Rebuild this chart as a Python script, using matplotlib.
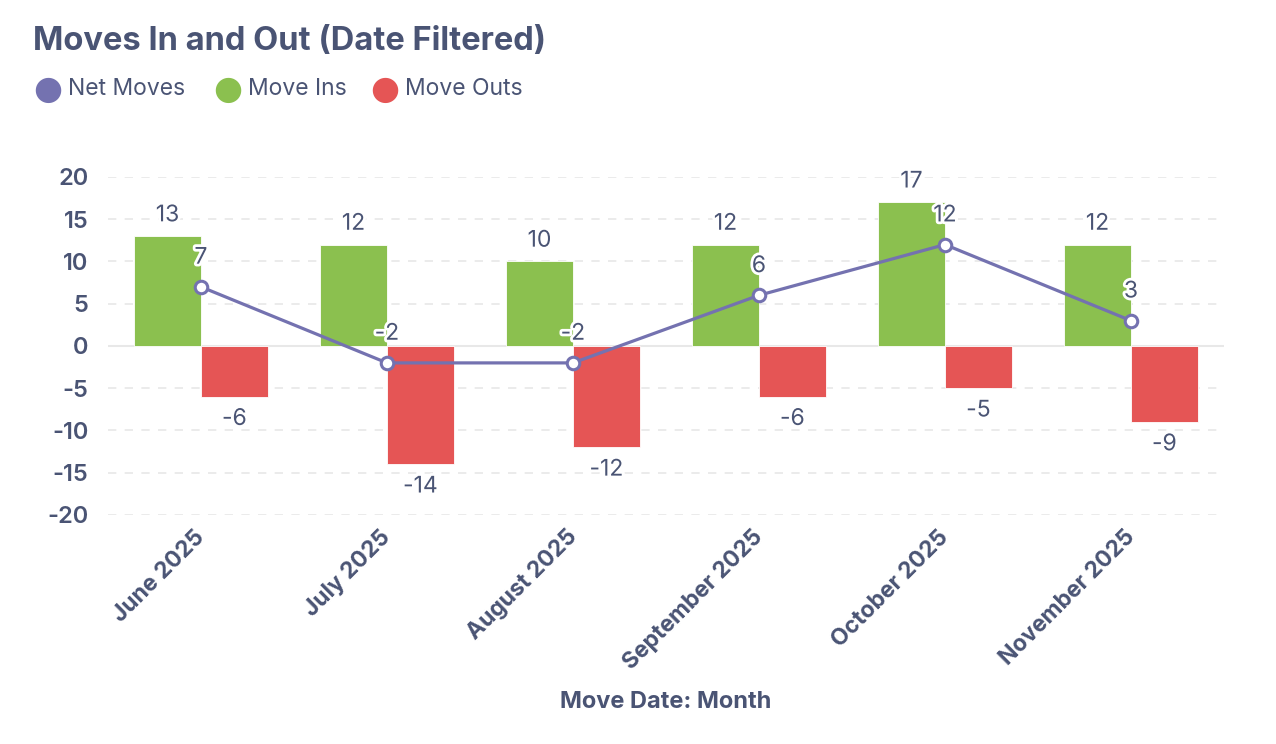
import matplotlib.pyplot as plt
import matplotlib.patheffects as pe
import matplotlib.transforms as mtrans
import numpy as np

months = ["June 2025", "July 2025", "August 2025", "September 2025",
          "October 2025", "November 2025"]
move_ins = [13, 12, 10, 12, 17, 12]
move_outs = [-6, -14, -12, -6, -5, -9]
net_moves = [7, -2, -2, 6, 12, 3]

text_col = "#4a5474"
green = "#8bc04f"
red = "#e55555"
purple = "#7472b0"

plt.rcParams['font.family'] = ['Inter', 'DejaVu Sans']
plt.rcParams['axes.unicode_minus'] = False

fig = plt.figure(figsize=(12.76, 7.44), dpi=100)
ax = fig.add_axes([0.0846, 0.3078, 0.8746, 0.4543])

x = np.arange(len(months))
w = 0.36
ax.bar(x - w / 2, move_ins, w, color=green, edgecolor="white", linewidth=0.6, zorder=2)
ax.bar(x + w / 2, move_outs, w, color=red, edgecolor="white", linewidth=0.6, zorder=2)
ax.plot(x, net_moves, color=purple, lw=2.3, marker="o", ms=9,
        mfc="white", mec=purple, mew=2.2, zorder=4)

outline = [pe.withStroke(linewidth=4, foreground="white")]
for i in range(len(months)):
    ax.annotate(str(move_ins[i]), (x[i] - w / 2, move_ins[i]), xytext=(0, 15),
                textcoords="offset points", ha="center", va="center",
                fontsize=16.5, color=text_col, path_effects=outline, zorder=5,
                annotation_clip=False)
    ax.annotate(str(move_outs[i]), (x[i] + w / 2, move_outs[i]), xytext=(0, -16),
                textcoords="offset points", ha="center", va="center",
                fontsize=16.5, color=text_col, path_effects=outline, zorder=5,
                annotation_clip=False)
    ax.annotate(str(net_moves[i]), (x[i], net_moves[i]), xytext=(0, 21),
                textcoords="offset points", ha="center", va="center",
                fontsize=16.5, color=text_col, path_effects=outline, zorder=6,
                annotation_clip=False)

ax.set_xlim(-0.5, len(months) - 0.5)
ax.set_ylim(-20, 20)
ax.set_yticks(range(-20, 21, 5))
ax.yaxis.grid(True, color="#e8e8e8", linestyle=(0, (5, 5)), lw=1.2, zorder=0)
ax.axhline(0, color="#e8e8e8", lw=1.5, zorder=1)
for s in ax.spines.values():
    s.set_visible(False)
ax.tick_params(axis="both", length=0, colors=text_col, labelsize=17)
ax.tick_params(axis="y", pad=14)
for lab in ax.get_yticklabels():
    lab.set_fontweight("semibold")

ax.set_xticks(x)
ax.set_xticklabels(months, rotation=45, ha="right", va="top",
                   rotation_mode="anchor", fontweight="bold", fontsize=16.5)
ax.tick_params(axis="x", pad=8)
shift = mtrans.ScaledTranslation(-7 / 100, 0, fig.dpi_scale_trans)
for lab in ax.get_xticklabels():
    lab.set_transform(lab.get_transform() + shift)
ax.set_xlabel("Move Date: Month", fontsize=17, fontweight="bold",
              color=text_col, labelpad=12)

fig.text(33 / 1276, 1 - 42 / 744, "Moves In and Out (Date Filtered)",
         fontsize=23.5, fontweight="bold", color=text_col, va="center", ha="left")

# legend
legend_items = [("Net Moves", purple, 48), ("Move Ins", green, 228),
                ("Move Outs", red, 385)]
for name, col, px in legend_items:
    fig.text(px / 1276, 1 - 89 / 744, "\u25CF", fontsize=24, color=col,
             ha="center", va="center", family="DejaVu Sans")
    fig.text((px + 20) / 1276, 1 - 89 / 744, name, fontsize=16.5,
             color=text_col, ha="left", va="center")

fig.savefig("out.png", dpi=100)
